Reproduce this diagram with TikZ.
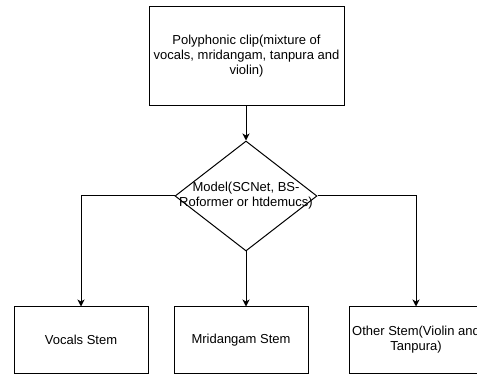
\documentclass[tikz,border=0pt]{standalone}
\usepackage{fontspec}
\setmainfont{Liberation Sans}
\usetikzlibrary{shapes.geometric,arrows.meta}
\begin{document}
\begin{tikzpicture}[x=1pt,y=-1pt,
  box/.style={draw=black,line width=1pt,fill=white,inner sep=0pt},
  conn/.style={draw=black,line width=1pt,-{Stealth[length=7pt,width=7pt,inset=2pt]}},
  lbl/.style={align=center,inner sep=0pt,font=\fontsize{13}{15}\selectfont}]
\useasboundingbox (0,0) rectangle (477,374);
\clip (0,0) rectangle (477,374);
\node[box,minimum width=195pt,minimum height=99pt] (top) at (246.5,56.5) {};
\node[lbl] at (top.center) {Polyphonic clip(mixture of\\vocals, mridangam, tanpura and\\violin)};
\node[draw=black,line width=1pt,shape=diamond,minimum width=142pt,minimum height=110pt,inner sep=0pt] (model) at (246,196) {};
\node[lbl] (modeltxt) at (model.center) {Model(SCNet, BS-\\Roformer or htdemucs)};
\node[box,minimum width=134pt,minimum height=66pt] (vocals) at (81,340) {};
\node[lbl] at (vocals.center) {Vocals Stem};
\node[box,minimum width=134pt,minimum height=66pt] (mrid) at (241,340) {};
\node[lbl] at (mrid.center) {Mridangam Stem};
\node[box,minimum width=134pt,minimum height=66pt] (other) at (416,340) {};
\node[lbl] at (other.center) {Other Stem(Violin and\\Tanpura)};
\draw[conn] (top.south -| model.north) -- (model.north);
\draw[conn] (model.west) -| (vocals.north);
\draw[conn] (model.south) -- (model.south |- mrid.north);
\draw[conn] (model.east) -| (other.north);
\end{tikzpicture}
\end{document}
